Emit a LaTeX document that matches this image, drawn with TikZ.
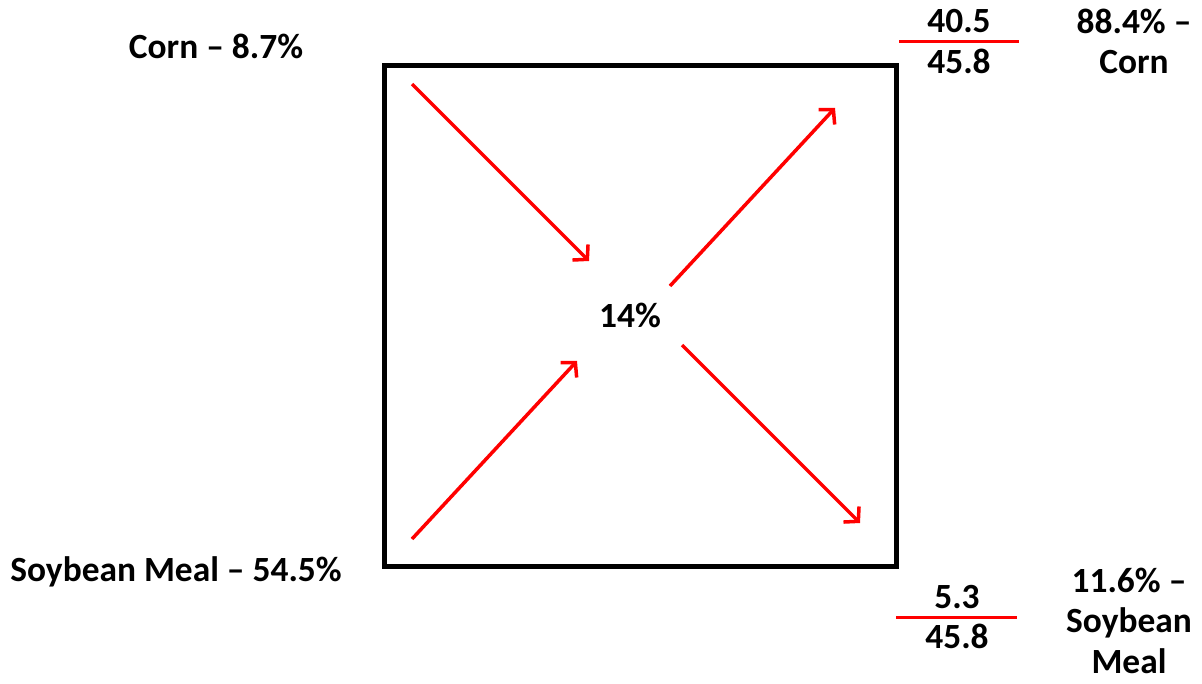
\documentclass[tikz,border=0pt]{standalone}
\usepackage{fontspec}
\setmainfont{Carlito}
\usetikzlibrary{arrows.meta}
\begin{document}
\begin{tikzpicture}[x=1pt,y=-1pt,
  lbl/.style={font=\fontsize{35.4}{40.5}\selectfont\bfseries, inner sep=0pt, anchor=base, align=center},
  arr/.style={draw=red, line width=3.5pt, -{Straight Barb[length=10pt,width=22pt]}},
  fracline/.style={draw=red, line width=3pt}]
\useasboundingbox (0,0) rectangle (1202,684);
% box
\node[draw, line width=5pt, minimum width=512pt, minimum height=500pt, inner sep=0pt] (box) at (640,316) {};
% labels
\node[lbl] (center) at (630,328) {14\%};
\node[lbl] (cornin) at (216,59) {Corn – 8.7\%};
\node[lbl] (soyin) at (176,581) {Soybean Meal – 54.5\%};
\node[lbl] (n1) at (959,33) {40.5};
\node[lbl] (d1) at (959,74) {45.8};
\node[lbl] (cornout) at (1134,74) {88.4\% –\\Corn};
\node[lbl] (n2) at (957,608) {5.3};
\node[lbl] (d2) at (957,648) {45.8};
\node[lbl] (soyout) at (1129,673) {11.6\% –\\Soybean\\Meal};
% fraction lines
\coordinate (f1a) at (899,42);
\coordinate (f1b) at (1019,42);
\coordinate (f2a) at (896,617);
\coordinate (f2b) at (1017,617);
\draw[fracline] (f1a) -- (f1b);
\draw[fracline] (f2a) -- (f2b);
% arrows
\coordinate (a1s) at (412,84);  \coordinate (a1e) at (589,261);
\coordinate (a2s) at (412,539); \coordinate (a2e) at (577,361);
\coordinate (a3s) at (670,286); \coordinate (a3e) at (835,108);
\coordinate (a4s) at (682,345); \coordinate (a4e) at (860,523);
\draw[arr] (a1s) -- (a1e);
\draw[arr] (a2s) -- (a2e);
\draw[arr] (a3s) -- (a3e);
\draw[arr] (a4s) -- (a4e);
\end{tikzpicture}
\end{document}
